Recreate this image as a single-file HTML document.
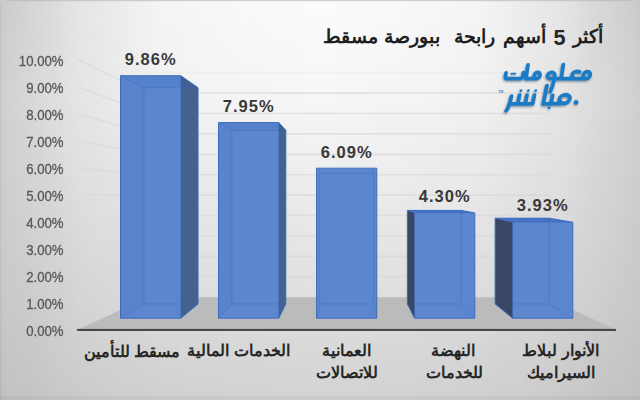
<!DOCTYPE html>
<html><head><meta charset="utf-8"><title>أكثر 5 أسهم رابحة ببورصة مسقط</title>
<style>
html,body{margin:0;padding:0}
body{width:640px;height:400px;overflow:hidden;position:relative;background:#d4d4d4;font-family:"Liberation Sans",sans-serif}
svg{position:absolute;left:0;top:0;display:block}
.y{position:absolute;left:0;width:63.6px;text-align:right;font-size:14.2px;line-height:14px;height:14px;color:#595959;-webkit-text-stroke:0.3px #595959;white-space:nowrap;transform:scaleX(0.93);transform-origin:100% 50%}
.d{position:absolute;width:80px;text-align:center;font-size:16.5px;font-weight:bold;line-height:16px;height:16px;color:#383838;letter-spacing:1px;white-space:nowrap}
.n5{position:absolute;left:553.6px;top:26.0px;font-size:21.6px;font-weight:bold;line-height:24px;color:#262626}
.tm{position:absolute;left:498.6px;top:90.2px;font-size:3.2px;font-weight:bold;line-height:4px;color:#2a84c8}
</style></head><body>
<svg width="640" height="400" viewBox="0 0 640 400" role="img" aria-label="أكثر 5 أسهم رابحة ببورصة مسقط">
<defs>
<linearGradient id="bgv" x1="0" y1="0" x2="0" y2="400" gradientUnits="userSpaceOnUse">
<stop offset="0" stop-color="#fbfbfb"/><stop offset="0.2575" stop-color="#f6f6f6"/><stop offset="0.3675" stop-color="#f1f1f1"/><stop offset="0.4575" stop-color="#ededed"/><stop offset="0.6075" stop-color="#e6e6e6"/><stop offset="0.6625" stop-color="#e3e3e3"/><stop offset="0.97" stop-color="#d4d4d4"/><stop offset="1" stop-color="#d2d2d2"/>
</linearGradient>
<linearGradient id="bgh" x1="0" y1="0" x2="640" y2="0" gradientUnits="userSpaceOnUse">
<stop offset="0" stop-color="#000" stop-opacity="0.195"/><stop offset="0.025" stop-color="#000" stop-opacity="0.171"/><stop offset="0.078" stop-color="#000" stop-opacity="0.127"/><stop offset="0.125" stop-color="#000" stop-opacity="0.084"/><stop offset="0.156" stop-color="#000" stop-opacity="0.070"/><stop offset="0.25" stop-color="#000" stop-opacity="0.026"/><stop offset="0.375" stop-color="#000" stop-opacity="0.009"/><stop offset="0.5" stop-color="#000" stop-opacity="0"/>
<stop offset="0.625" stop-color="#000" stop-opacity="0.009"/><stop offset="0.75" stop-color="#000" stop-opacity="0.026"/><stop offset="0.844" stop-color="#000" stop-opacity="0.070"/><stop offset="0.875" stop-color="#000" stop-opacity="0.084"/><stop offset="0.922" stop-color="#000" stop-opacity="0.127"/><stop offset="0.975" stop-color="#000" stop-opacity="0.171"/><stop offset="1" stop-color="#000" stop-opacity="0.195"/>
</linearGradient>
<linearGradient id="mv" x1="0" y1="0" x2="0" y2="400" gradientUnits="userSpaceOnUse">
<stop offset="0" stop-color="#fff"/><stop offset="0.25" stop-color="#cfcfcf"/><stop offset="0.515" stop-color="#ababab"/><stop offset="0.75" stop-color="#858585"/><stop offset="0.97" stop-color="#707070"/><stop offset="1" stop-color="#6c6c6c"/>
</linearGradient>
<mask id="mk" maskUnits="userSpaceOnUse" x="0" y="0" width="640" height="400"><rect width="640" height="400" fill="url(#mv)"/></mask>
<filter id="ls" x="-10%" y="-20%" width="120%" height="150%"><feGaussianBlur stdDeviation="0.9"/></filter>
</defs>
<rect width="640" height="400" fill="url(#bgv)"/>
<rect width="640" height="400" fill="url(#bgh)" mask="url(#mk)"/>
<path d="M8 0.5H632" stroke="#b4b4b4" stroke-width="1.5" fill="none" opacity="0.6"/>
<rect x="0" y="396" width="640" height="4" fill="#000" opacity="0.035"/>
<rect x="0" y="4" width="1.5" height="396" fill="#000" opacity="0.04"/>
<path d="M148.0 276.79H551.0M148.0 256.38H551.0M148.0 235.97H551.0M148.0 215.56H551.0M148.0 195.15H551.0M148.0 174.74H551.0M148.0 154.33H551.0M148.0 133.92H551.0M148.0 113.51H551.0M148.0 93.10H551.0" stroke="#d6d6d6" stroke-opacity="0.62" stroke-width="1.6" fill="none"/>
<path d="M148.0 72.69H551.0" stroke="#d6d6d6" stroke-opacity="0.16" stroke-width="1.6" fill="none"/>
<path d="M77.0 302.95L148.0 276.79M77.0 275.90L148.0 256.38M77.0 248.85L148.0 235.97M77.0 221.80L148.0 215.56M77.0 194.75L148.0 195.15M77.0 167.70L148.0 174.74M77.0 140.65L148.0 154.33M77.0 113.60L148.0 133.92M77.0 86.55L148.0 113.51M77.0 59.50L148.0 93.10" stroke="#d8d8d8" stroke-opacity="0.65" stroke-width="1.6" fill="none"/>
<polygon points="77.00,330.00 616.00,330.00 547.00,297.20 148.00,297.20" fill="#bbbbbb"/>
<rect x="77.0" y="328.9" width="539.0" height="2.1" fill="#484848"/>
<polygon points="120.50,75.70 180.80,75.70 198.03,87.75 198.03,303.90 180.80,318.15 120.50,318.15" fill="#5c86cd"/>
<polygon points="180.80,75.70 198.03,87.75 198.03,303.90 180.80,318.15" fill="#45618f"/>
<polygon points="120.50,75.70 144.02,87.75 144.02,303.90 120.50,318.15" fill="#2f62bd" fill-opacity="0.05"/>
<polygon points="120.50,75.70 180.80,75.70 198.03,87.75 144.02,87.75" fill="#2a5cb8" fill-opacity="0.12"/>
<path d="M120.50 75.70L144.02 87.75M144.02 87.75L144.02 303.90M144.02 87.75L198.03 87.75M144.02 303.90L120.50 318.15M144.02 303.90L198.03 303.90M180.80 75.70L180.80 318.15" stroke="#3264bd" stroke-opacity="0.3" stroke-width="1" fill="none"/>
<polygon points="120.50,75.70 180.80,75.70 198.03,87.75 198.03,303.90 180.80,318.15 120.50,318.15" fill="none" stroke="#3d6cc0" stroke-width="1" stroke-linejoin="round"/>
<polygon points="218.50,122.60 278.80,122.60 285.81,130.30 285.81,303.90 278.80,318.15 218.50,318.15" fill="#5c86cd"/>
<polygon points="278.80,122.60 285.81,130.30 285.81,303.90 278.80,318.15" fill="#45618f"/>
<polygon points="218.50,122.60 231.80,130.30 231.80,303.90 218.50,318.15" fill="#2f62bd" fill-opacity="0.05"/>
<polygon points="218.50,122.60 278.80,122.60 285.81,130.30 231.80,130.30" fill="#2a5cb8" fill-opacity="0.12"/>
<path d="M218.50 122.60L231.80 130.30M231.80 130.30L231.80 303.90M231.80 130.30L285.81 130.30M231.80 303.90L218.50 318.15M231.80 303.90L285.81 303.90M278.80 122.60L278.80 318.15" stroke="#3264bd" stroke-opacity="0.3" stroke-width="1" fill="none"/>
<polygon points="218.50,122.60 278.80,122.60 285.81,130.30 285.81,303.90 278.80,318.15 218.50,318.15" fill="none" stroke="#3d6cc0" stroke-width="1" stroke-linejoin="round"/>
<polygon points="316.50,168.20 376.80,168.20 376.80,318.15 316.50,318.15" fill="#5c86cd"/>
<path d="M319.58 170.00L319.58 303.90M373.59 170.00L373.59 303.90M319.58 173.30L373.59 173.30M319.58 303.90L373.59 303.90M316.50 318.15L319.58 303.90M376.80 318.15L373.59 303.90" stroke="#3264bd" stroke-opacity="0.3" stroke-width="1" fill="none"/>
<polygon points="316.50,168.20 376.80,168.20 376.80,318.15 316.50,318.15" fill="none" stroke="#3d6cc0" stroke-width="1" stroke-linejoin="round"/>
<polygon points="407.36,210.40 461.37,210.40 474.80,213.00 474.80,318.15 414.50,318.15 407.36,303.90" fill="#5c86cd"/>
<polygon points="407.36,210.40 414.50,213.00 414.50,318.15 407.36,303.90" fill="#384766"/>
<polygon points="407.36,210.40 461.37,210.40 474.80,213.00 414.50,213.00" fill="#4473c4"/>
<path d="M461.37 210.40L461.37 303.90M461.37 303.90L474.80 318.15M414.50 303.90L461.37 303.90M414.50 213.00L474.80 213.00M414.50 213.00L414.50 318.15" stroke="#3264bd" stroke-opacity="0.3" stroke-width="1" fill="none"/>
<polygon points="407.36,210.40 461.37,210.40 474.80,213.00 474.80,318.15 414.50,318.15 407.36,303.90" fill="none" stroke="#3d6cc0" stroke-width="1" stroke-linejoin="round"/>
<polygon points="495.13,218.20 549.14,218.20 572.80,222.30 572.80,318.15 512.50,318.15 495.13,303.90" fill="#5c86cd"/>
<polygon points="495.13,218.20 512.50,222.30 512.50,318.15 495.13,303.90" fill="#384766"/>
<polygon points="495.13,218.20 549.14,218.20 572.80,222.30 512.50,222.30" fill="#4473c4"/>
<path d="M549.14 218.20L549.14 303.90M549.14 303.90L572.80 318.15M512.50 303.90L549.14 303.90M512.50 222.30L572.80 222.30M512.50 222.30L512.50 318.15" stroke="#3264bd" stroke-opacity="0.3" stroke-width="1" fill="none"/>
<polygon points="495.13,218.20 549.14,218.20 572.80,222.30 572.80,318.15 512.50,318.15 495.13,303.90" fill="none" stroke="#3d6cc0" stroke-width="1" stroke-linejoin="round"/>
<g font-family="'Liberation Sans', sans-serif" font-size="16" font-weight="bold" fill="#262626" text-anchor="middle" direction="rtl">
<text x="132" y="356.5">مسقط للتأمين</text>
<text x="238.7" y="356.3">الخدمات المالية</text>
<text x="346.5" y="356.2">العمانية</text>
<text x="346.7" y="377.6">للاتصالات</text>
<text x="453.4" y="356.2">النهضة</text>
<text x="454" y="377.6">للخدمات</text>
<text x="560.5" y="356.2">الأنوار لبلاط</text>
<text x="561.4" y="377.6">السيراميك</text>
</g>
<g font-family="'Liberation Sans', sans-serif" font-size="19" font-weight="bold" fill="#1f1f1f" text-anchor="middle" direction="rtl">
<text x="587.9" y="43">أكثر</text>
<text x="524" y="43">أسهم</text>
<text x="474.4" y="43">رابحة</text>
<text x="412.3" y="43">ببورصة</text>
<text x="350" y="43">مسقط</text>
</g>
<g><title>معلومات مباشر</title><g opacity="0.6" filter="url(#ls)" transform="translate(-0.8 1.4)"><g transform="translate(0 78.65) skewX(-8.5) translate(0 -78.65)" fill="none" stroke="#4c5f7c" stroke-linecap="round" stroke-linejoin="round"><path d="M582.7 75.1A3.5 3.55 0 1 0 589.7 75.1A3.5 3.55 0 1 0 582.7 75.1ZM586.2 78.65L553 78.65M578.6 72.0C576.4 70.9 571.6 71.2 571.6 75.1C571.6 77.4 573.2 78.65 575.4 78.65M561.2 78.65L561.2 64.6M547.1 75.5A3.6 3.05 0 1 0 554.3000000000001 75.5A3.6 3.05 0 1 0 547.1 75.5ZM554.3 75.5C554.6 80 553.8 86 552.3 91.8M533.7 75.5A2.9 3.05 0 1 0 539.5 75.5A2.9 3.05 0 1 0 533.7 75.5ZM536.6 78.55L525.9 78.65L525.9 64.9M505.1 72.9L505.1 76.1Q505.1 78.65 507.7 78.65L519.9 78.65Q522.4 78.65 522.4 76.1L522.4 72.5" stroke-width="3.8"/><path d="M510.6 73.7L514.8 73.7" stroke-width="1.7"/></g><g transform="translate(0 103.9) skewX(-11) translate(0 -103.9)" fill="none" stroke="#4c5f7c" stroke-linecap="round" stroke-linejoin="round"><path d="M558.6 99.1A5.1 4.3 0 1 0 568.8000000000001 99.1A5.1 4.3 0 1 0 558.6 99.1ZM563.7 103.4L543.3 103.9L543.3 85.6M550.9 103.9L550.9 95.4M532.6 103.9L532.6 95.2M525.2 103.9L525.2 95.2M517.8 103.9L517.8 95.2M532.6 103.9L509.2 103.9M509.9 96.2C510 101.5 509.6 107 507.6 110.6" stroke-width="4.0"/><circle cx="533.2" cy="90.6" r="1.4" fill="#4c5f7c" stroke="none"/><circle cx="525.8" cy="90.6" r="1.4" fill="#4c5f7c" stroke="none"/><circle cx="518.4" cy="90.6" r="1.4" fill="#4c5f7c" stroke="none"/><circle cx="549.9" cy="107.7" r="1.4" fill="#4c5f7c" stroke="none"/></g><circle cx="576.1" cy="102.4" r="2.35" fill="#4c5f7c"/></g><g transform="translate(0 78.65) skewX(-8.5) translate(0 -78.65)" fill="none" stroke="#1b7cc5" stroke-linecap="round" stroke-linejoin="round"><path d="M582.7 75.1A3.5 3.55 0 1 0 589.7 75.1A3.5 3.55 0 1 0 582.7 75.1ZM586.2 78.65L553 78.65M578.6 72.0C576.4 70.9 571.6 71.2 571.6 75.1C571.6 77.4 573.2 78.65 575.4 78.65M561.2 78.65L561.2 64.6M547.1 75.5A3.6 3.05 0 1 0 554.3000000000001 75.5A3.6 3.05 0 1 0 547.1 75.5ZM554.3 75.5C554.6 80 553.8 86 552.3 91.8M533.7 75.5A2.9 3.05 0 1 0 539.5 75.5A2.9 3.05 0 1 0 533.7 75.5ZM536.6 78.55L525.9 78.65L525.9 64.9M505.1 72.9L505.1 76.1Q505.1 78.65 507.7 78.65L519.9 78.65Q522.4 78.65 522.4 76.1L522.4 72.5" stroke-width="3.7"/><path d="M510.6 73.7L514.8 73.7" stroke-width="1.7"/></g><g transform="translate(0 103.9) skewX(-11) translate(0 -103.9)" fill="none" stroke="#1b7cc5" stroke-linecap="round" stroke-linejoin="round"><path d="M558.6 99.1A5.1 4.3 0 1 0 568.8000000000001 99.1A5.1 4.3 0 1 0 558.6 99.1ZM563.7 103.4L543.3 103.9L543.3 85.6M550.9 103.9L550.9 95.4M532.6 103.9L532.6 95.2M525.2 103.9L525.2 95.2M517.8 103.9L517.8 95.2M532.6 103.9L509.2 103.9M509.9 96.2C510 101.5 509.6 107 507.6 110.6" stroke-width="3.9"/><circle cx="533.2" cy="90.6" r="1.4" fill="#1b7cc5" stroke="none"/><circle cx="525.8" cy="90.6" r="1.4" fill="#1b7cc5" stroke="none"/><circle cx="518.4" cy="90.6" r="1.4" fill="#1b7cc5" stroke="none"/><circle cx="549.9" cy="107.7" r="1.4" fill="#1b7cc5" stroke="none"/></g><circle cx="576.1" cy="102.4" r="2.35" fill="#1b7cc5"/></g>
</svg>
<div class="y" style="top:324.0px">0.00%</div>
<div class="y" style="top:297.0px">1.00%</div>
<div class="y" style="top:270.1px">2.00%</div>
<div class="y" style="top:243.1px">3.00%</div>
<div class="y" style="top:216.2px">4.00%</div>
<div class="y" style="top:189.2px">5.00%</div>
<div class="y" style="top:162.2px">6.00%</div>
<div class="y" style="top:135.3px">7.00%</div>
<div class="y" style="top:108.3px">8.00%</div>
<div class="y" style="top:81.4px">9.00%</div>
<div class="y" style="top:54.4px">10.00%</div>
<div class="d" style="left:110.7px;top:51.3px">9.86%</div>
<div class="d" style="left:208.7px;top:98.0px">7.95%</div>
<div class="d" style="left:306.7px;top:144.2px">6.09%</div>
<div class="d" style="left:404.7px;top:187.8px">4.30%</div>
<div class="d" style="left:502.7px;top:197.0px">3.93%</div>
<div class="n5">5</div><div class="tm">TM</div>
</body></html>
